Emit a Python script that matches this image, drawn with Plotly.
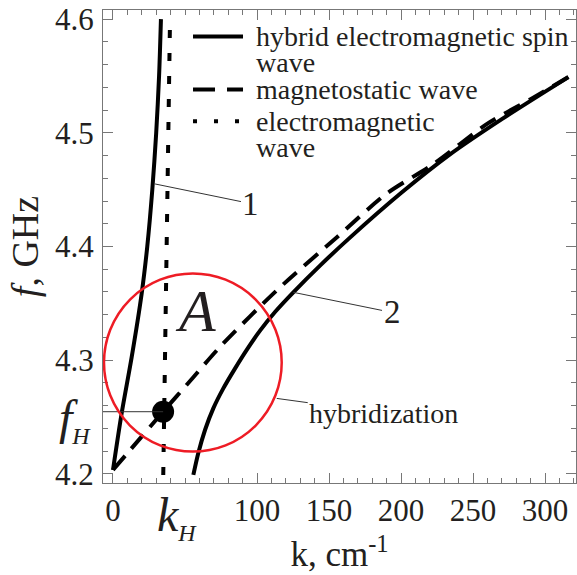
import plotly.graph_objects as go

# ---- data ----
# branch 1 of the hybrid electromagnetic spin wave
k_hyb1 = [0, 6.0, 13.0, 19.9, 23.8, 27.3, 30.0, 32.0, 33.3]
f_hyb1 = [4.2035, 4.2532, 4.3029, 4.3585, 4.40, 4.45, 4.50, 4.55, 4.60]
# branch 2 of the hybrid electromagnetic spin wave
k_hyb2 = [55.8, 59.2, 63.9, 69.65, 76.6, 84.7, 93.1, 102.1, 112.5, 125.2, 143.75, 163.4, 200, 234, 270, 316.2]
f_hyb2 = [4.1991, 4.2182, 4.2386, 4.2576, 4.2752, 4.2926, 4.3095, 4.3260, 4.3424, 4.3597, 4.3832, 4.4065,
          4.447, 4.481, 4.512, 4.549]
# magnetostatic wave
k_ms = [0, 34.8, 55.8, 74.3, 113.7, 155.3, 190, 222.5, 260, 290, 316.2]
f_ms = [4.2035, 4.2547, 4.285, 4.3117, 4.3614, 4.408, 4.4465, 4.4725, 4.508, 4.5296, 4.549]
# electromagnetic wave
k_em = [34.9, 39.6]
f_em = [4.199, 4.600]
# hybridization point
k_H = 34.8
f_H = 4.2547
# hybridization region (circle bounds)
circ_k = [-6.25, 117.15]
circ_f = [4.2196, 4.3763]

x_ticks = [0, 100, 150, 200, 250, 300]
y_ticks = [4.2, 4.3, 4.4, 4.5, 4.6]
X_RANGE = [-6.94, 321.5]
Y_RANGE = [4.192, 4.608]

legend_lines = [
    ("hybrid electromagnetic spin", "solid"),
    ("wave", None),
    ("magnetostatic wave", "22px,12px"),
    ("electromagnetic", "4px,17px"),
    ("wave", None),
]

SERIF = "Liberation Serif"
TXT = "#231f20"
FRAME = "#777777"

fig = go.Figure()
fig.add_trace(go.Scatter(x=k_hyb1, y=f_hyb1, mode="lines", line=dict(color="black", width=4, shape="spline", smoothing=0.8),
                         name="hybrid electromagnetic spin wave", legendgroup="h", showlegend=False))
fig.add_trace(go.Scatter(x=k_hyb2, y=f_hyb2, mode="lines", line=dict(color="black", width=4, shape="spline", smoothing=0.8),
                         name="hybrid electromagnetic spin wave", legendgroup="h", showlegend=False))
fig.add_trace(go.Scatter(x=k_ms, y=f_ms, mode="lines", line=dict(color="black", width=4, dash="18px,10px", shape="spline", smoothing=0.8),
                         name="magnetostatic wave", showlegend=False))
fig.add_trace(go.Scatter(x=k_em, y=f_em, mode="lines", line=dict(color="black", width=4, dash="8px,15px"),
                         name="electromagnetic wave", showlegend=False))
fig.add_trace(go.Scatter(x=[k_H], y=[f_H], mode="markers", marker=dict(color="black", size=22),
                         showlegend=False, hoverinfo="skip"))

# guide line to f_H
fig.add_shape(type="line", xref="x", yref="y", x0=X_RANGE[0], x1=k_H, y0=f_H, y1=f_H,
              line=dict(color="#333333", width=1))
# hybridization circle
fig.add_shape(type="circle", xref="x", yref="y", x0=circ_k[0], x1=circ_k[1], y0=circ_f[0], y1=circ_f[1],
              line=dict(color="#ee1c25", width=2.5))

# legend (drawn as text + sample lines, to keep the tight line spacing of the reference)
leg_y = [0.9441, 0.8900, 0.8319, 0.7648, 0.7086]
for (txt, dash), yy in zip(legend_lines, leg_y):
    fig.add_annotation(xref="paper", yref="paper", x=0.319, y=yy, xanchor="left", yanchor="middle",
                       text=txt, showarrow=False, font=dict(family=SERIF, size=28, color=TXT))
    if dash is not None:
        fig.add_shape(type="line", xref="paper", yref="paper", x0=0.1903, x1=0.296, y0=yy, y1=yy,
                      line=dict(color="black", width=4, dash=dash))

ann_font = dict(family=SERIF, color=TXT)
fig.add_annotation(x=57.6, y=4.343, text="<i>A</i>", showarrow=False, font=dict(size=60, **ann_font))
fig.add_annotation(x=29.2, y=4.455, ax=95.8, ay=4.4377, axref="x", ayref="y", text="1",
                   showarrow=True, arrowhead=0, arrowwidth=1, arrowcolor="#333333", font=dict(size=33, **ann_font))
fig.add_annotation(x=125.2, y=4.3597, ax=193.75, ay=4.342, axref="x", ayref="y", text="2",
                   showarrow=True, arrowhead=0, arrowwidth=1, arrowcolor="#333333", font=dict(size=33, **ann_font))
fig.add_annotation(x=113.7, y=4.2664, ax=188, ay=4.2535, axref="x", ayref="y", text="hybridization",
                   showarrow=True, arrowhead=0, arrowwidth=1, arrowcolor="#333333", font=dict(size=28, **ann_font))
fig.add_annotation(xref="paper", x=-0.021, xanchor="right", yref="y", y=f_H, yshift=-8, yanchor="middle",
                   text="<i>f</i><sub><i><span style='font-size:24px'>H</span></i></sub>",
                   showarrow=False, font=dict(size=48, **ann_font))
fig.add_annotation(xref="x", x=k_H, xshift=14, xanchor="center", yref="paper", y=-0.072, yanchor="middle",
                   text="<i>k</i><sub><i><span style='font-size:24px'>H</span></i></sub>",
                   showarrow=False, font=dict(size=48, **ann_font))

axis_common = dict(showgrid=False, zeroline=False, showline=True, linecolor=FRAME, linewidth=1.2,
                   mirror="allticks", ticks="inside", ticklen=10, tickwidth=1.2, tickcolor=FRAME,
                   tickfont=dict(family=SERIF, size=31, color=TXT))

fig.update_xaxes(range=X_RANGE, tickvals=x_ticks, ticktext=[str(v) for v in x_ticks],
                 minor=dict(dtick=10, tick0=0, ticks="inside", ticklen=5, tickcolor=FRAME, tickwidth=1.2),
                 title=dict(text="k, cm<sup>-1</sup>", font=dict(family=SERIF, size=35, color=TXT), standoff=14),
                 ticklabelstandoff=0, **axis_common)
fig.update_yaxes(range=Y_RANGE, tickvals=y_ticks, ticktext=[f"{v:.1f}" for v in y_ticks],
                 minor=dict(dtick=0.02, tick0=4.2, ticks="inside", ticklen=5, tickcolor=FRAME, tickwidth=1.2),
                 title=dict(text="<i>f</i>, GHz", font=dict(family=SERIF, size=38, color=TXT), standoff=4),
                 ticklabelstandoff=2, **axis_common)

fig.update_layout(
    width=577, height=575,
    margin=dict(l=103, r=1, t=10, b=92),
    paper_bgcolor="white", plot_bgcolor="white",
    showlegend=False,
)

fig.write_html("out.html")
